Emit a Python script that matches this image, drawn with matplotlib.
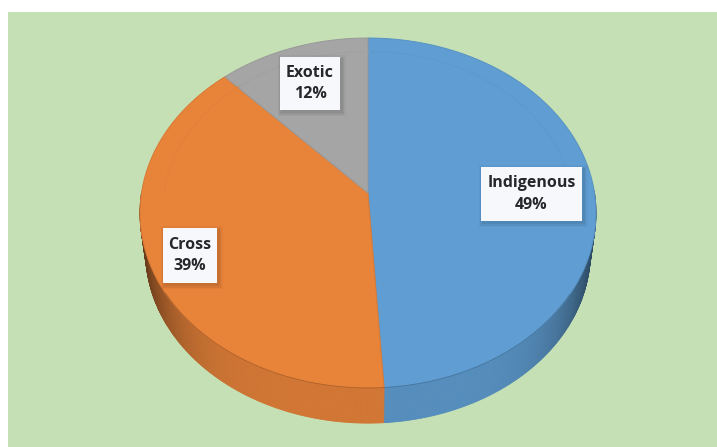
import matplotlib
matplotlib.use("Agg")
import matplotlib.pyplot as plt
from matplotlib.patches import Rectangle
from matplotlib.colors import to_rgb
import numpy as np

categories = ["Indigenous", "Cross", "Exotic"]
values = [49, 39, 12]
top_colors = ["#5f9dd2", "#e8833a", "#a5a5a5"]
label_boxes = [(481, 167, 101, 54), (163, 228, 54, 55), (280, 57, 60, 53)]

# pie centre and perspective of the tilted disc, in pixels
cx, cy = 368, 193
A, B, k = 226.5, 172.7, 0.1143
depth = 40
taper = 0.975


def project(frac):
    # frac is the share of the pie going clockwise from 12 o'clock
    ang = 2 * np.pi * np.asarray(frac)
    u, v = np.sin(ang), -np.cos(ang)
    w = 1 - k * v
    return cx + A * u / w, cy + B * v / w


def shade(color, f):
    return tuple(min(1, c * f) for c in to_rgb(color))


fig = plt.figure(figsize=(7.17, 4.47), dpi=100, facecolor="white")
ax = fig.add_axes([0, 0, 1, 1])
ax.set_xlim(0, 717)
ax.set_ylim(447, 0)
ax.axis("off")

ax.add_patch(Rectangle((8, 12), 709, 435, facecolor="#c5e0b4", edgecolor="none", zorder=0))

edges = np.cumsum([0] + values) / sum(values)

# side wall first, darker towards both ends of the front arc
for i, col in enumerate(top_colors):
    fr = np.linspace(edges[i], edges[i + 1], 240)
    xs, ys = project(fr)
    bx = cx + (xs - cx) * taper
    by = cy + (ys - cy) * taper + depth
    for j in range(len(fr) - 1):
        if ys[j] < cy and ys[j + 1] < cy:
            continue
        off = abs(xs[j] - cx) / 228
        f = 0.9 - 0.45 * off ** 6
        qx = [xs[j], xs[j + 1], bx[j + 1], bx[j]]
        qy = [ys[j], ys[j + 1], by[j + 1], by[j]]
        ax.fill(qx, qy, color=shade(col, f), lw=0.6, zorder=1)

# top face
for i, col in enumerate(top_colors):
    fr = np.linspace(edges[i], edges[i + 1], 300)
    xs, ys = project(fr)
    ax.fill(np.r_[cx, xs], np.r_[cy, ys], facecolor=col, edgecolor=shade(col, 0.93), lw=0.7, zorder=2)
    # faint bevel ring inside the rim
    rx, ry = (xs - cx) * 0.9 + cx, (ys - cy) * 0.9 + cy - 2
    keep = ry < cy
    ax.plot(rx[keep], ry[keep], color=shade(col, 0.98), lw=1, zorder=3)
    # dark line on the front rim
    keep = ys > cy + 100
    ax.plot(xs[keep], ys[keep], color=shade(col, 0.75), lw=0.6, zorder=3)

# data labels
for name, val, (bx, by, bw, bh) in zip(categories, values, label_boxes):
    for s, a in [(4, 0.03), (2.5, 0.05), (1, 0.06)]:
        ax.add_patch(Rectangle((bx - s + 1.5, by - s + 2), bw + 2 * s, bh + 2 * s,
                               facecolor="black", alpha=a, edgecolor="none", zorder=4))
    ax.add_patch(Rectangle((bx, by), bw, bh, facecolor="#f6f8fb", edgecolor="none", zorder=5))
    ax.text(bx + bw / 2, by + bh / 2, f"{name}\n{val}%", ha="center", va="center",
            fontsize=11.5, fontweight="bold", family="Open Sans", color="#26262b",
            linespacing=1.42, zorder=6)

fig.savefig("out.png", dpi=100, facecolor="white")
